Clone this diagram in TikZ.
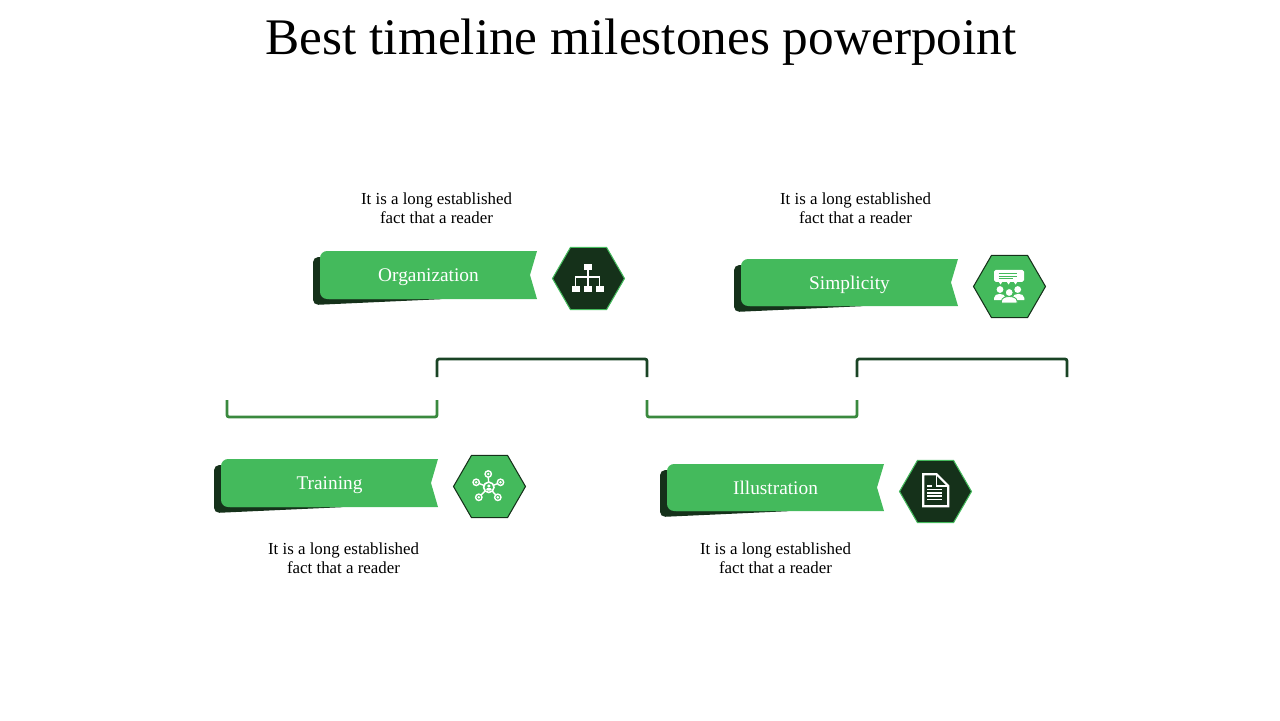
\documentclass[tikz,border=0pt]{standalone}
\usepackage{xcolor}
\usepackage{fontspec}
\usepackage{tikz}
\usetikzlibrary{shapes.geometric}
\setmainfont{Liberation Serif}
\definecolor{ribbongreen}{HTML}{44BA5C}
\definecolor{darkgreen}{HTML}{15311A}
\definecolor{bracketdark}{HTML}{1A4425}
\definecolor{bracketlight}{HTML}{3A893E}
\tikzset{
    hexnode/.style={regular polygon, regular polygon sides=6, inner sep=0pt, minimum size=1.44cm, line width=.6pt},
    labeltext/.style={text=white, inner sep=0pt, anchor=base, font=\fontsize{11}{13}\selectfont},
    desctext/.style={align=center, inner sep=0pt, font=\fontsize{9.6}{10.8}\selectfont},
    bracketline/.style={line width=1.6pt, rounded corners=1.2pt}
}

\begin{document}
\begin{tikzpicture}[x=.02cm, y=-.02cm]
\useasboundingbox (0,0) rectangle (1280,720);
\node[inner sep=0pt, font=\fontsize{29.2}{34}\selectfont] (title) at (641,42) {Best timeline milestones powerpoint};

% ribbons and hexagons
\foreach \x/\y/\h/\nm/\txt/\hexfill/\hexdraw in {320/251/48/org/Organization/darkgreen/ribbongreen, 741/259/47/simp/Simplicity/ribbongreen/darkgreen, 221/459/48/train/Training/ribbongreen/darkgreen, 667/464/47/illus/Illustration/darkgreen/ribbongreen}
{
    \begin{scope}[shift={(\x,\y)}]
    \fill[darkgreen, rounded corners=3pt] (-7,6) -- (-7,\h+6) -- (125,\h) -- (10,6) -- cycle;
    \fill[ribbongreen, rounded corners=4pt] (100,0) -- (0,0) -- (0,\h) -- (100,\h);
    \fill[ribbongreen] (9,0) -- (217,0) -- (210,\h/2) -- (217,\h) -- (9,\h) -- cycle;
    \node[labeltext] (label\nm) at (108.5,30.3) {\txt};
    \node[hexnode, fill=\hexfill, draw=\hexdraw] (hex\nm) at (268.5,27.5) {};
    \end{scope}
}

\node[desctext] (descorg) at (436.5,208) {It is a long established\\fact that a reader};
\node[desctext] (descsimp) at (855.5,208) {It is a long established\\fact that a reader};
\node[desctext] (desctrain) at (343.5,558) {It is a long established\\fact that a reader};
\node[desctext] (descillus) at (775.5,558) {It is a long established\\fact that a reader};

% brackets
\foreach \x/\nm in {437/a,857/b}
{
    \coordinate (up\nm) at (\x,377);
    \coordinate (upend\nm) at (\x+210,377);
    \draw[bracketline, bracketdark] (up\nm) |- (\x+105,359) -| (upend\nm);
};
\foreach \x/\nm in {227/a,647/b}
{
    \coordinate (low\nm) at (\x,400);
    \coordinate (lowend\nm) at (\x+210,400);
    \draw[bracketline, bracketlight] (low\nm) |- (\x+105,417) -| (lowend\nm);
};

% organization icon
\begin{scope}[shift={(hexorg.center)}]
\fill[white] (-4.7,-14.5) rectangle (3.7,-8.5);
\foreach \x in {-17,-5,7}
{
    \fill[white] (\x,7.8) rectangle (\x+8.5,13.5);
};
\draw[white, line width=.6pt] (-.5,-8.5) -- (-.5,7.8);
\draw[white, line width=.6pt] (-13,7.8) -- (-13,-1.5) -- (11.3,-1.5) -- (11.3,7.8);
\end{scope}

% simplicity icon
\begin{scope}[shift={(hexsimp.center)}]
\fill[white, rounded corners=1pt] (-15.5,-16.7) rectangle (14.5,-4.7);
\foreach \x in {-9,-1,6}
{
    \fill[white] (\x-2,-5) -- (\x+2,-5) -- (\x,-2) -- cycle;
};
\draw[ribbongreen, line width=.4pt] (-11,-13) -- (7,-13);
\draw[ribbongreen, line width=.4pt] (-11,-10.5) -- (7,-10.5);
\draw[ribbongreen, line width=.4pt] (-11,-8) -- (3,-8);
\fill[white] (-9.5,3) circle (3.4);
\fill[white] (8.2,3) circle (3.4);
\fill[white] (-15.5,13.7) -- (-15.5,11.5) .. controls (-15.5,6) and (-4,6) .. (-4,11.5) -- (-4,13.7) -- cycle;
\fill[white] (3,13.7) -- (3,11.5) .. controls (3,6) and (14.8,6) .. (14.8,11.5) -- (14.8,13.7) -- cycle;
\filldraw[white, draw=ribbongreen, line width=.5pt] (-.3,6) circle (4);
\filldraw[white, draw=ribbongreen, line width=.5pt] (-8,16.6) -- (-8,14.5) .. controls (-8,8.5) and (7.5,8.5) .. (7.5,14.5) -- (7.5,16.6) -- cycle;
\end{scope}

% training icon
\begin{scope}[shift={(hextrain.center)}]
\foreach \x/\y in {-1.3/-12.5, -13.3/-4.2, 11/-4.2, -10.7/10.8, 8.3/10.8}
{
    \draw[white, line width=.8pt] (-.7,.8) -- (\x,\y);
    \filldraw[fill=ribbongreen, draw=white, line width=.8pt] (\x,\y) circle (3.2);
    \fill[white] (\x,\y) circle (1.4);
};
\filldraw[fill=ribbongreen, draw=white, line width=.9pt] (-.7,.8) circle (5.2);
\fill[white] (-.7,-.5) circle (1.7);
\fill[white, rounded corners=1pt] (-4,4) rectangle (2.6,1.5);
\end{scope}

% illustration icon
\begin{scope}[shift={(hexillus.center)}]
\draw[white, line width=1.2pt] (-12.3,-17.3) -- (1,-17.3) -- (12.7,-5.7) -- (12.7,14.7) -- (-12.3,14.7) -- cycle;
\draw[white, line width=.9pt] (1,-17.3) -- (1,-5.7) -- (12.7,-5.7);
\draw[white, line width=1pt] (-8.3,-5.7) -- (-3.3,-5.7);
\foreach \y in {-2,1.3,4.7,8}
{
    \draw[white, line width=1pt] (-8.3,\y) -- (6,\y);
};
\end{scope}
\end{tikzpicture}
\end{document}
